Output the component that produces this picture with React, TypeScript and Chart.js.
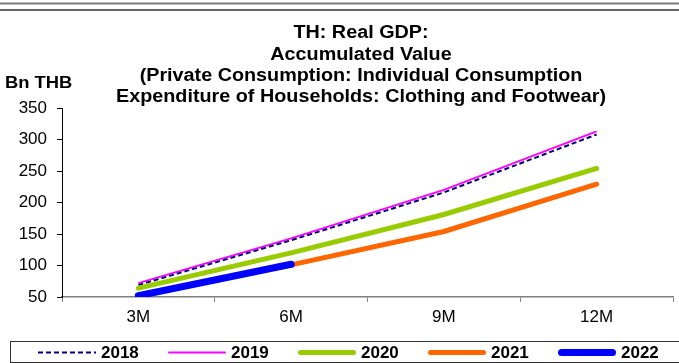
import React, { useEffect, useRef } from 'react';
import { Chart, registerables } from 'chart.js';

Chart.register(...registerables);

const categories = ['3M', '6M', '9M', '12M'];
const seriesNames = ['2018', '2019', '2020', '2021', '2022'];
const values2018 = [69, 140, 216, 308];
const values2019 = [72, 143, 220, 313];
const values2020 = [64, 120, 181, 254];
const values2021 = [53, 101, 154, 229];
const values2022 = [52, 102];
const yMin = 50;
const yMax = 350;
const yStep = 50;
const titleLines = [
  'TH: Real GDP:',
  'Accumulated Value',
  '(Private Consumption: Individual Consumption',
  'Expenditure of Households: Clothing and Footwear)',
];
const unitLabel = 'Bn THB';

const FONT = '"Liberation Sans", Arial, sans-serif';

const decorPlugin = {
  id: 'decor',
  afterDraw(chart: any) {
    const ctx = chart.ctx as CanvasRenderingContext2D;
    const w = chart.width;
    ctx.save();
    // top double rule
    ctx.strokeStyle = '#7a7a7a';
    ctx.lineWidth = 2;
    ctx.beginPath();
    ctx.moveTo(0, 3.5);
    ctx.lineTo(w, 3.5);
    ctx.stroke();
    ctx.strokeStyle = '#333';
    ctx.lineWidth = 1.5;
    ctx.beginPath();
    ctx.moveTo(0, 10);
    ctx.lineTo(w, 10);
    ctx.stroke();

    // title (slightly widened glyphs as in the reference)
    ctx.fillStyle = '#000';
    ctx.font = `bold 17.5px ${FONT}`;
    ctx.textAlign = 'center';
    ctx.textBaseline = 'middle';
    const sx = 1.13;
    titleLines.forEach((line, i) => {
      ctx.save();
      ctx.translate(361, 33.5 + i * 21.3);
      ctx.scale(sx, 1);
      ctx.fillText(line, 0, 0);
      ctx.restore();
    });

    // unit label
    ctx.textAlign = 'left';
    ctx.save();
    ctx.font = `bold 17px ${FONT}`;
    ctx.translate(5, 83);
    ctx.scale(1.08, 1);
    ctx.fillText(unitLabel, 0, 0);
    ctx.restore();

    // legend box
    ctx.strokeStyle = '#333';
    ctx.lineWidth = 1;
    ctx.strokeRect(10.5, 341.5, w + 20, 21);

    // legend items
    const startX = 38;
    const step = 130;
    const sampleW = 58;
    const ly = 352.5;
    chart.data.datasets.forEach((ds: any, i: number) => {
      const x0 = startX + i * step;
      ctx.save();
      ctx.strokeStyle = ds.borderColor;
      ctx.lineWidth = ds.borderWidth;
      ctx.lineCap = ds.borderDash && ds.borderDash.length ? 'butt' : 'round';
      ctx.setLineDash(ds.borderDash || []);
      const inset = ctx.lineCap === 'round' ? ds.borderWidth / 2 : 0;
      ctx.beginPath();
      ctx.moveTo(x0 + inset, ly);
      ctx.lineTo(x0 + sampleW - inset, ly);
      ctx.stroke();
      ctx.restore();
      ctx.fillStyle = '#000';
      ctx.font = `bold 17px ${FONT}`;
      ctx.textAlign = 'left';
      ctx.textBaseline = 'middle';
      ctx.fillText(ds.label, x0 + sampleW + 5, ly + 1);
    });
    ctx.restore();
  },
};

export default function App() {
  const ref = useRef<HTMLCanvasElement | null>(null);

  useEffect(() => {
    document.body.style.margin = '0';
    document.body.style.overflow = 'hidden';
    const canvas = ref.current;
    if (!canvas) return;
    const chart = new Chart(canvas, {
      type: 'line',
      data: {
        labels: categories,
        datasets: [
          {
            label: seriesNames[0],
            data: values2018,
            borderColor: '#000080',
            borderWidth: 2,
            borderDash: [5, 3],
            pointRadius: 0,
            order: 3,
          },
          {
            label: seriesNames[1],
            data: values2019,
            borderColor: '#FF00FF',
            borderWidth: 2,
            pointRadius: 0,
            order: 4,
          },
          {
            label: seriesNames[2],
            data: values2020,
            borderColor: '#99CC00',
            borderWidth: 5,
            borderCapStyle: 'round',
            pointRadius: 0,
            order: 2,
          },
          {
            label: seriesNames[3],
            data: values2021,
            borderColor: '#FF6600',
            borderWidth: 5,
            borderCapStyle: 'round',
            pointRadius: 0,
            order: 1,
          },
          {
            label: seriesNames[4],
            data: values2022,
            borderColor: '#0000FF',
            borderWidth: 7,
            borderCapStyle: 'round',
            pointRadius: 0,
            order: 0,
          },
        ],
      } as any,
      options: {
        animation: false,
        responsive: false,
        layout: { padding: { top: 108, right: 6, left: 0, bottom: 0 } },
        plugins: {
          legend: { display: false },
          title: { display: false },
          tooltip: { enabled: false },
        },
        scales: {
          x: {
            offset: true,
            grid: {
              offset: true,
              drawOnChartArea: false,
              tickLength: 5,
              color: '#808080',
            },
            border: { color: '#808080', width: 1.5 },
            ticks: {
              color: '#000',
              font: { family: FONT, size: 17 },
              padding: 5,
              maxRotation: 0,
            },
            afterFit: (s: any) => {
              s.height = 66;
            },
          },
          y: {
            min: yMin,
            max: yMax,
            grid: {
              drawOnChartArea: false,
              tickLength: 5,
              color: '#000',
            },
            border: { color: '#000', width: 1 },
            ticks: {
              stepSize: yStep,
              color: '#000',
              font: { family: FONT, size: 17 },
              padding: 10,
            },
            afterFit: (s: any) => {
              s.width = 62;
            },
          },
        },
      } as any,
      plugins: [decorPlugin],
    });
    return () => chart.destroy();
  }, []);

  return (
    <div style={{ width: 679, height: 363, background: '#fff' }}>
      <canvas ref={ref} width={679} height={363} style={{ display: 'block' }} />
    </div>
  );
}
